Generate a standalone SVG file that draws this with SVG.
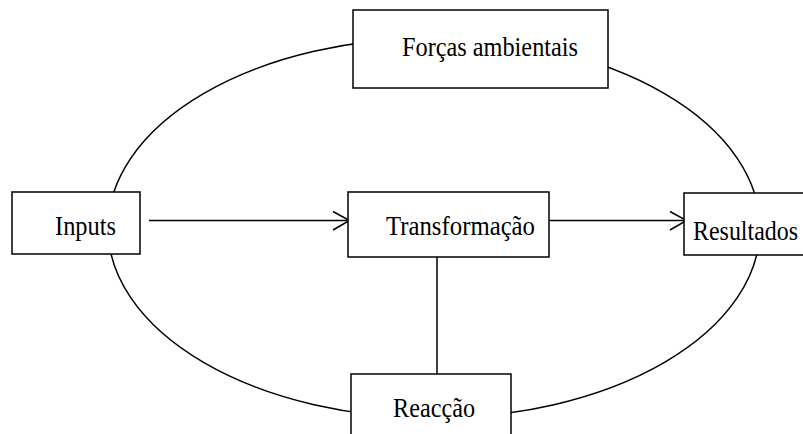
<svg xmlns="http://www.w3.org/2000/svg" width="803" height="434" viewBox="0 0 803 434">
<style>
.box{fill:#fff;stroke:#000;stroke-width:1.5}
.ln{fill:none;stroke:#000;stroke-width:1.5}
text{font-family:"Liberation Serif","DejaVu Serif",serif;font-size:27px;fill:#000}
</style>
<rect width="803" height="434" fill="#fff"/>
<g id="connectors">
<ellipse class="ln" cx="434" cy="228" rx="326" ry="190"/>
<line class="ln" x1="149" y1="220.5" x2="349" y2="220.5"/>
<polyline class="ln" points="333,211.5 349.5,220.5 333,230"/>
<line class="ln" x1="549" y1="220.5" x2="686" y2="220.5"/>
<polyline class="ln" points="670,211.5 686.5,220.5 670,230"/>
<line class="ln" x1="437" y1="257" x2="437" y2="374"/>
</g>
<g id="node-forcas">
<rect class="box" x="353" y="10" width="255" height="78"/>
<text x="402" y="56" textLength="176" lengthAdjust="spacingAndGlyphs">Forças ambientais</text>
</g>
<g id="node-inputs">
<rect class="box" x="12" y="192" width="128" height="62"/>
<text x="55" y="235" textLength="61" lengthAdjust="spacingAndGlyphs">Inputs</text>
</g>
<g id="node-transformacao">
<rect class="box" x="348" y="192" width="201" height="65"/>
<text x="386" y="235" textLength="149" lengthAdjust="spacingAndGlyphs">Transformação</text>
</g>
<g id="node-resultados">
<rect class="box" x="684" y="193" width="121" height="62"/>
<text x="693" y="240" textLength="105" lengthAdjust="spacingAndGlyphs">Resultados</text>
</g>
<g id="node-reaccao">
<rect class="box" x="351" y="374" width="160" height="70"/>
<text x="393" y="417" textLength="82" lengthAdjust="spacingAndGlyphs">Reacção</text>
</g>
</svg>
